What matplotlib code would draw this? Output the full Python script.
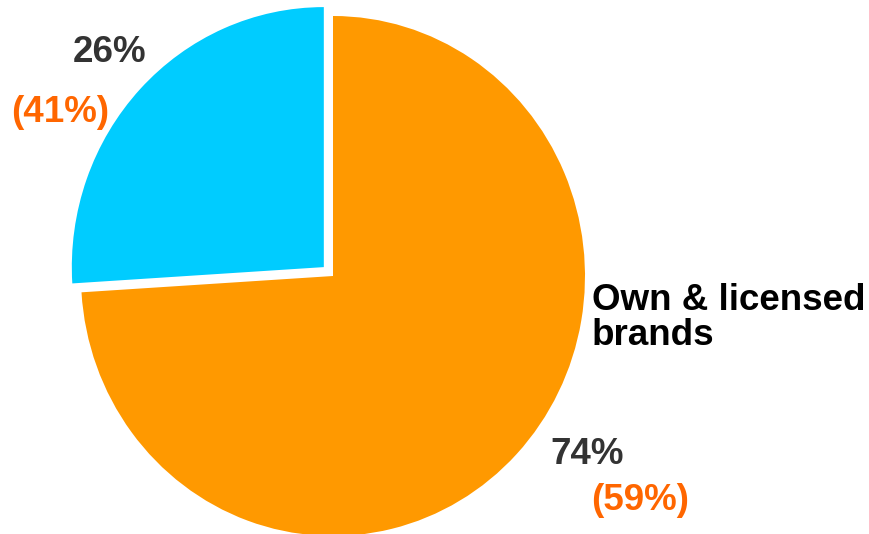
import matplotlib

matplotlib.use("Agg")
import matplotlib.pyplot as plt

# segment shares, current year and (prior year)
segments = ["Own & licensed\nbrands", ""]
shares = [74, 26]
prior_shares = [59, 41]
colors = ["#FF9900", "#00CCFF"]
explode = [0, 0.05]

plt.rcParams["font.family"] = ["Liberation Sans", "DejaVu Sans"]

fig = plt.figure(figsize=(8.69, 5.34), dpi=100)
ax = fig.add_axes([0, 0, 1, 1])
ax.axis("off")

ax.pie(
    shares,
    colors=colors,
    explode=explode,
    startangle=90,
    counterclock=False,
    radius=1,
    wedgeprops={"linewidth": 0},
)
ax.set_aspect("auto")
# pie centre at (333, 276) px from top-left, radii 252 x 260 px
cx, cy, rx, ry = 333, 276, 252, 260
ax.set_xlim(-cx / rx, (869 - cx) / rx)
ax.set_ylim(-(534 - cy) / ry, cy / ry)


def px(x, y):
    return (x - cx) / rx, (cy - y) / ry


dark = "#333333"
accent = "#FF6600"
size = 26.5

ax.text(*px(592, 318), segments[0], ha="left", va="center", fontsize=size,
        fontweight="bold", color="black", linespacing=1.0)
ax.text(*px(587, 455), f"{shares[0]}%", ha="center", va="center",
        fontsize=size, fontweight="bold", color=dark)
ax.text(*px(640, 500), f"({prior_shares[0]}%)", ha="center", va="center",
        fontsize=size, fontweight="bold", color=accent)
ax.text(*px(110, 52), f"{shares[1]}%", ha="center", va="center",
        fontsize=size, fontweight="bold", color=dark)
ax.text(*px(60, 113), f"({prior_shares[1]}%)", ha="center", va="center",
        fontsize=size, fontweight="bold", color=accent)

fig.savefig("out.png", dpi=100)
plt.close(fig)
